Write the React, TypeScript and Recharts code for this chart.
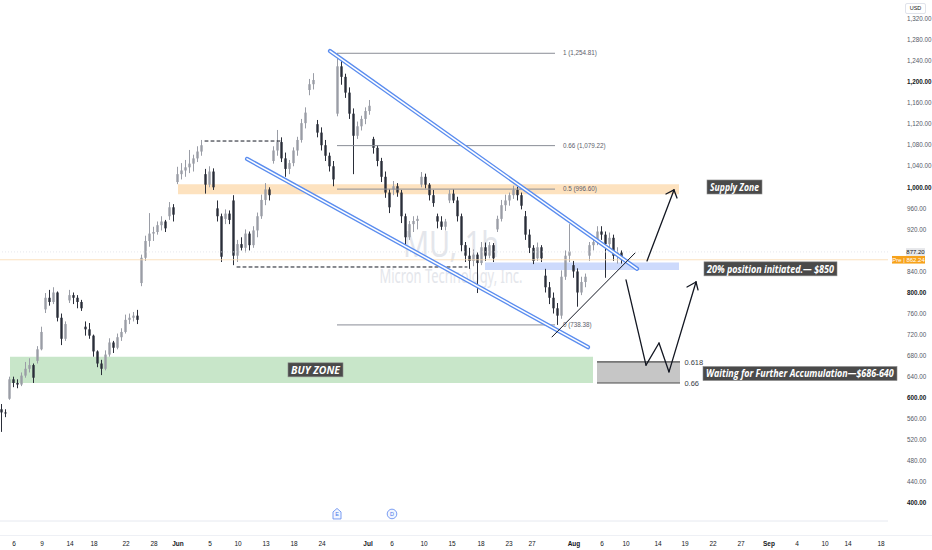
import React, { useLayoutEffect, useRef, useState } from 'react';
import {
  ComposedChart,
  Bar,
  XAxis,
  YAxis,
  ReferenceArea,
  ReferenceLine,
  ReferenceDot,
} from 'recharts';

// ---- candle series: [open, high, low, close], one per bar index ----
const candles: [number, number, number, number][] = [
  [578, 588, 535, 572], [572, 578, 563, 570], [598, 640, 596, 635], [635, 640, 620, 628],
  [628, 635, 618, 625], [625, 648, 622, 642], [642, 668, 638, 655], [655, 675, 648, 662],
  [662, 665, 628, 638], [670, 698, 665, 692], [692, 735, 690, 725], [768, 799, 761, 790],
  [790, 805, 775, 782], [782, 810, 778, 800], [800, 802, 745, 752], [752, 760, 700, 712],
  [712, 745, 708, 740], [785, 805, 780, 795], [795, 800, 778, 790], [790, 795, 770, 782],
  [782, 786, 765, 770], [735, 745, 718, 730], [730, 742, 712, 718], [718, 720, 678, 688],
  [688, 690, 658, 665], [665, 672, 643, 655], [655, 690, 652, 682], [682, 713, 678, 705],
  [705, 708, 685, 695], [695, 722, 692, 715], [715, 732, 708, 725], [725, 758, 722, 748],
  [748, 760, 740, 752], [752, 763, 745, 756], [756, 767, 740, 748], [818, 872, 812, 866],
  [866, 908, 860, 898], [898, 951, 887, 912], [912, 925, 898, 915], [915, 935, 910, 928],
  [928, 945, 918, 935], [935, 938, 915, 922], [945, 972, 938, 962], [962, 968, 935, 948],
  [1010, 1039, 1006, 1025], [1025, 1046, 1015, 1032], [1032, 1052, 1020, 1038], [1038, 1071, 1027, 1045],
  [1045, 1062, 1030, 1055], [1055, 1078, 1048, 1068], [1068, 1090, 1060, 1080], [1025, 1035, 988, 1005],
  [1005, 1040, 1000, 1030], [1030, 1036, 995, 1000], [960, 975, 935, 945], [945, 950, 858, 868],
  [940, 958, 930, 950], [950, 956, 930, 938], [975, 985, 852, 870], [870, 900, 858, 892],
  [892, 905, 880, 885], [885, 920, 876, 912], [912, 916, 880, 890], [890, 926, 885, 918],
  [918, 952, 905, 945], [945, 986, 940, 976], [976, 1008, 966, 996], [996, 1000, 975, 985],
  [1050, 1078, 1045, 1070], [1070, 1109, 1060, 1086], [1086, 1095, 1048, 1055], [1055, 1066, 1020, 1035],
  [1035, 1052, 1025, 1046], [1046, 1076, 1040, 1070], [1070, 1096, 1060, 1090], [1090, 1130, 1085, 1122],
  [1122, 1152, 1112, 1142], [1185, 1206, 1175, 1196], [1196, 1217, 1186, 1204], [1120, 1128, 1095, 1104],
  [1104, 1114, 1070, 1080], [1080, 1090, 1050, 1060], [1060, 1066, 1030, 1040], [1040, 1050, 1002, 1015],
  [1140, 1254.81, 1135, 1230], [1230, 1240, 1195, 1210], [1210, 1216, 1170, 1180], [1180, 1190, 1130, 1140],
  [1140, 1150, 1025, 1098], [1098, 1125, 1092, 1116], [1116, 1136, 1108, 1130], [1130, 1152, 1120, 1145],
  [1145, 1166, 1138, 1155], [1092, 1096, 1064, 1075], [1075, 1080, 1040, 1050], [1050, 1056, 1010, 1020],
  [1020, 1030, 980, 990], [990, 996, 951, 962], [996, 1012, 985, 1002], [1002, 1008, 982, 990],
  [990, 995, 932, 945], [945, 950, 888, 905], [905, 936, 900, 930], [930, 945, 915, 936],
  [936, 946, 920, 940], [1005, 1029, 1000, 1020], [1020, 1026, 998, 1005], [1005, 1008, 975, 985],
  [985, 995, 963, 970], [945, 950, 922, 935], [935, 945, 919, 925], [925, 940, 918, 935],
  [975, 995, 970, 988], [988, 996, 970, 975], [975, 982, 935, 945], [945, 950, 878, 890],
  [890, 896, 858, 870], [870, 885, 845, 860], [860, 882, 850, 872], [872, 876, 799, 856],
  [856, 896, 852, 886], [886, 895, 860, 870], [870, 896, 865, 890], [890, 894, 858, 865],
  [920, 946, 915, 940], [940, 976, 935, 966], [966, 986, 955, 975], [975, 990, 965, 985],
  [985, 1003, 978, 995], [995, 1001, 975, 985], [985, 990, 958, 965], [945, 955, 900, 910],
  [910, 920, 875, 885], [885, 890, 854, 860], [865, 895, 860, 886], [886, 890, 858, 865],
  [832, 845, 800, 810], [810, 820, 778, 790], [790, 800, 760, 770], [770, 780, 738.38, 756],
  [756, 842, 750, 830], [830, 880, 824, 870], [870, 930, 858, 878], [852, 860, 828, 840],
  [840, 846, 773, 800], [800, 830, 795, 820], [820, 836, 810, 830], [870, 896, 860, 890],
  [890, 902, 880, 896], [896, 926, 890, 916], [916, 926, 900, 910], [910, 916, 828, 892],
  [892, 914, 880, 904], [904, 910, 860, 870], [870, 886, 855, 876], [876, 880, 855, 862.24],
];

// ---- axes ----
const priceTicks = [
  400, 440, 480, 520, 560, 600, 640, 680, 720, 760, 800, 840, 920, 960, 1000,
  1040, 1080, 1120, 1160, 1200, 1240, 1280, 1320,
];
const dateTicks = [
  3, 10, 17, 23, 31, 38, 44, 52, 59, 66, 73, 80, 91.5, 97.5, 105.5, 112.5, 119.75,
  126.75, 132.5, 143, 150, 156, 164, 170.75, 177.75, 184.75, 191.75, 198.75, 205.75, 211.5, 219.75,
];
const dateLabels = [
  '6', '9', '14', '18', '22', '28', 'Jun', '5', '10', '13', '18', '24', 'Jul', '6', '10', '15', '18',
  '23', '27', 'Aug', '6', '10', '14', '19', '22', '27', 'Sep', '4', '10', '14', '18',
];

// ---- zones [x1, x2, priceLow, priceHigh] ----
const buyZone = [2, 147.75, 628, 678];
const supplyZone = [44, 169.25, 987, 1006];
const entryZone = [120.75, 169.25, 843, 857];
const accumBox = [148.75, 169.5, 628, 668];

// ---- fib levels ----
const fibLevels = [1254.81, 1079.22, 996.6, 738.38];
const fibLabels = ['1 (1,254.81)', '0.66 (1,079.22)', '0.5 (996.60)', '0 (738.38)'];
const fibRange = [83.75, 138.25];

// ---- drawn lines (polylines of {i: bar index, p: price}) ----
type Pt = { i: number; p: number };
const upperChannel: Pt[] = [{ i: 82, p: 1259 }, { i: 158.75, p: 845 }];
const lowerChannel: Pt[] = [{ i: 61.25, p: 1054 }, { i: 146.5, p: 696 }];
const supportLine: Pt[] = [{ i: 137.5, p: 715.5 }, { i: 158.25, p: 875 }];
const dashedTop: Pt[] = [{ i: 50.75, p: 1088 }, { i: 69.5, p: 1088 }];
const dashedBottom: Pt[] = [{ i: 58.75, p: 848.5 }, { i: 116.25, p: 848.5 }];
const bullPath: Pt[] = [{ i: 161.25, p: 860 }, { i: 168, p: 995 }];
const bullHead: Pt[] = [{ i: 166, p: 987.3 }, { i: 168, p: 995 }, { i: 168.75, p: 979.7 }];
const dipPath: Pt[] = [
  { i: 156, p: 824 }, { i: 161, p: 662 }, { i: 164.25, p: 704 }, { i: 166.75, p: 649 }, { i: 173.5, p: 820 },
];
const dipHead: Pt[] = [{ i: 171.25, p: 810.5 }, { i: 173.5, p: 820 }, { i: 174, p: 805 }];

// ---- text notes [x, price, width, text] ----
const notes: [number, number, number, string][] = [
  [176.25, 1000.6, 55, 'Supply Zone'],
  [175.5, 845, 133, '20% position initiated.\u2014 $850'],
  [175.25, 646, 194, 'Waiting for Further Accumulation\u2014$686-640'],
  [71.5, 653, 55, 'BUY ZONE'],
];

const lastClose = 862.24;
const prevClose = 877.2;
const events = [
  { i: 83.75, kind: 'E' },
  { i: 97.5, kind: 'D' },
];

const data = candles.map(([o, h, l, c], i) => ({ i, o, h, l, c, range: [l, h] }));

const FONT = '"Liberation Sans", Arial, sans-serif';

const segmentsOf = (pts: Pt[]) =>
  pts.slice(1).map((pt, k) => [
    { x: pts[k].i, y: pts[k].p },
    { x: pt.i, y: pt.p },
  ]);

const CandleShape = (props: any) => {
  const { x, y, width, height, payload } = props;
  if (x == null || y == null || !payload) return null;
  const { o, h, l, c } = payload;
  const cx = x + width / 2;
  const k = height / (h - l || 1);
  const yO = y + (h - o) * k;
  const yC = y + (h - c) * k;
  const up = c >= o;
  const color = up ? '#9a9da6' : '#2a2e39';
  const top = Math.min(yO, yC);
  const bh = Math.max(Math.abs(yC - yO), 1);
  return (
    <g>
      <line x1={cx} x2={cx} y1={y} y2={y + height} stroke={color} strokeWidth={1} />
      <rect x={cx - 1.2} y={top} width={2.4} height={bh} fill={color} />
    </g>
  );
};

const PriceTick = (props: any) => {
  const { x, y, payload } = props;
  const v = payload.value as number;
  const strong = v % 200 === 0;
  return (
    <text
      x={x + 19}
      y={y}
      dy="0.35em"
      fontSize={6.3}
      fontFamily={FONT}
      fill={strong ? '#131722' : '#555a66'}
      fontWeight={strong ? 700 : 400}
      textAnchor="start"
    >
      {v.toLocaleString('en-US', { minimumFractionDigits: 2, maximumFractionDigits: 2 })}
    </text>
  );
};

const DateTick = (props: any) => {
  const { x, y, payload } = props;
  const idx = dateTicks.indexOf(payload.value);
  const label = idx >= 0 ? dateLabels[idx] : '';
  const month = /[A-Za-z]/.test(label);
  return (
    <text
      x={x}
      y={y + 24.5}
      textAnchor="middle"
      fontSize={6.5}
      fontFamily={FONT}
      fontWeight={month ? 700 : 400}
      fill="#131722"
    >
      {label}
    </text>
  );
};

// text squeezed horizontally to a target width (measured after layout)
const FitText = ({ x, y, width, text }: { x: number; y: number; width: number; text: string }) => {
  const ref = useRef<SVGTextElement>(null);
  const [s, setS] = useState(0.72);
  useLayoutEffect(() => {
    if (ref.current) {
      const w = ref.current.getComputedTextLength();
      if (w > 0) setS(width / w);
    }
  }, [width, text]);
  return (
    <g transform={`translate(${x},${y}) scale(${s},1)`}>
      <text
        ref={ref}
        x={0}
        y={0}
        dy="0.36em"
        fill="#ffffff"
        fontSize={11}
        fontWeight={700}
        fontStyle="italic"
        fontFamily='"Open Sans", "Noto Sans", sans-serif'
      >
        {text}
      </text>
    </g>
  );
};

const noteShape = (w: number, text: string) => (p: any) => {
  const { cx, cy } = p;
  if (cx == null || cy == null) return null;
  return (
    <g>
      <rect x={cx} y={cy - 7} width={w} height={14} fill="#4a4a4a" stroke="#8a8a8a" strokeWidth={0.6} />
      <FitText x={cx + 3} y={cy} width={w - 6} text={text} />
    </g>
  );
};

const smallText = (text: string, size: number, color: string) => (p: any) => {
  const { cx, cy } = p;
  if (cx == null || cy == null) return null;
  return (
    <text x={cx} y={cy} dy="0.35em" fontSize={size} fill={color} fontFamily={FONT}>
      {text}
    </text>
  );
};

const tagShape = (text: string, bg: string, fg: string, w: number, dx: number) => (p: any) => {
  const { cx, cy } = p;
  if (cx == null || cy == null) return null;
  return (
    <g>
      <rect x={cx + dx} y={cy - 3.8} width={w} height={7.6} fill={bg} />
      <text x={cx + dx + w / 2} y={cy} dy="0.35em" fontSize={6} fill={fg} textAnchor="middle" fontFamily={FONT}>
        {text}
      </text>
    </g>
  );
};

const eventShape = (kind: string) => (p: any) => {
  const { cx, cy } = p;
  if (cx == null || cy == null) return null;
  return (
    <g>
      {kind === 'E' ? (
        <path
          d={`M${cx - 4} ${cy + 5} L${cx - 4} ${cy - 2} L${cx} ${cy - 5.5} L${cx + 4} ${cy - 2} L${cx + 4} ${cy + 5} Z`}
          fill="#f2f6ff"
          stroke="#6b92f0"
          strokeWidth={0.9}
        />
      ) : (
        <circle cx={cx} cy={cy} r={4.8} fill="#f2f6ff" stroke="#6b92f0" strokeWidth={0.9} />
      )}
      <text x={cx} y={cy + 0.5} dy="0.35em" fontSize={5.5} fill="#4a78e8" textAnchor="middle" fontFamily={FONT}>
        {kind}
      </text>
    </g>
  );
};

const renderPolyline = (pts: Pt[], key: string, stroke: string, width: number, dash?: string) =>
  segmentsOf(pts).map((seg, k) => (
    <ReferenceLine
      key={`${key}-${k}`}
      segment={seg}
      stroke={stroke}
      strokeWidth={width}
      strokeDasharray={dash}
      strokeLinecap="round"
    />
  ));

export default function App() {
  return (
    <div style={{ position: 'absolute', left: 0, top: 0, width: 932, height: 550, background: '#ffffff', overflow: 'hidden' }}>
      {/* symbol watermark */}
      <div
        style={{
          position: 'absolute',
          left: 251,
          width: 400,
          top: 226,
          textAlign: 'center',
          fontFamily: '"Noto Sans", sans-serif',
          color: '#e4e6eb',
          lineHeight: 1,
        }}
      >
        <div style={{ fontSize: 36, transform: 'scaleX(0.8)' }}>MU, 1h</div>
        <div style={{ fontSize: 19, marginTop: 5, transform: 'scaleX(0.68)' }}>Micron Technology, Inc.</div>
      </div>
      <div style={{ position: 'absolute', left: 0, top: 535, width: 932, height: 1, background: '#eef0f5' }} />
      <div style={{ position: 'absolute', left: 0, top: 0 }}>
        <ComposedChart width={932} height={550} data={data} margin={{ top: 0, right: 0, bottom: 0, left: 0 }}>
          <XAxis
            dataKey="i"
            type="number"
            domain={[-0.5, 221.5]}
            allowDataOverflow
            ticks={dateTicks}
            interval={0}
            tick={<DateTick />}
            tickLine={false}
            tickSize={0}
            tickMargin={0}
            axisLine={{ stroke: '#e6e9f0' }}
            height={29}
          />
          <YAxis
            orientation="right"
            type="number"
            domain={[365.6, 1356.1]}
            allowDataOverflow
            ticks={priceTicks}
            interval={0}
            tick={<PriceTick />}
            tickLine={false}
            tickSize={0}
            tickMargin={0}
            axisLine={false}
            width={44}
          />

          <ReferenceArea x1={buyZone[0]} x2={buyZone[1]} y1={buyZone[2]} y2={buyZone[3]} fill="#c8e6c9" fillOpacity={1} stroke="none" />
          <ReferenceArea x1={supplyZone[0]} x2={supplyZone[1]} y1={supplyZone[2]} y2={supplyZone[3]} fill="#fde2bf" fillOpacity={1} stroke="none" />
          <ReferenceArea x1={entryZone[0]} x2={entryZone[1]} y1={entryZone[2]} y2={entryZone[3]} fill="#cddafc" fillOpacity={1} stroke="none" />
          <ReferenceArea x1={accumBox[0]} x2={accumBox[1]} y1={accumBox[2]} y2={accumBox[3]} fill="#c6c6c6" fillOpacity={1} stroke="none" />

          <ReferenceLine y={prevClose} stroke="#dfe1e8" strokeWidth={0.8} strokeDasharray="1 2" />
          <ReferenceLine y={lastClose} stroke="#fbd9b0" strokeWidth={0.8} />

          {fibLevels.map((lv) => (
            <ReferenceLine
              key={`fib-${lv}`}
              segment={[{ x: fibRange[0], y: lv }, { x: fibRange[1], y: lv }]}
              stroke="#8a8d96"
              strokeWidth={1}
            />
          ))}
          <ReferenceLine
            segment={[{ x: accumBox[0], y: accumBox[3] }, { x: accumBox[1], y: accumBox[3] }]}
            stroke="#4a4a4a"
            strokeWidth={1.2}
          />
          <ReferenceLine
            segment={[{ x: accumBox[0], y: accumBox[2] }, { x: accumBox[1], y: accumBox[2] }]}
            stroke="#4a4a4a"
            strokeWidth={1.2}
          />

          <Bar dataKey="range" shape={CandleShape} barSize={3} isAnimationActive={false} />

          {renderPolyline(dashedTop, 'dt', '#131722', 1, '3 3')}
          {renderPolyline(dashedBottom, 'db', '#131722', 1, '3 3')}
          {renderPolyline(upperChannel, 'uc', '#5b8def', 4.2)}
          {renderPolyline(upperChannel, 'ucw', '#ffffff', 1.5)}
          {renderPolyline(lowerChannel, 'lc', '#5b8def', 4.2)}
          {renderPolyline(lowerChannel, 'lcw', '#ffffff', 1.5)}
          {renderPolyline(supportLine, 'sl', '#131722', 1)}
          {renderPolyline(bullPath, 'bp', '#131722', 1.3)}
          {renderPolyline(bullHead, 'bh', '#131722', 1.3)}
          {renderPolyline(dipPath, 'dp', '#131722', 1.3)}
          {renderPolyline(dipHead, 'dh', '#131722', 1.3)}

          {fibLevels.map((lv, k) => (
            <ReferenceDot
              key={`fibl-${lv}`}
              x={fibRange[1] + 2}
              y={lv}
              r={0}
              shape={smallText(fibLabels[k], 6.3, '#5d606b')}
            />
          ))}
          <ReferenceDot x={accumBox[1] + 1.1} y={accumBox[3]} r={0} shape={smallText('0.618', 7.5, '#3a3d45')} />
          <ReferenceDot x={accumBox[1] + 1.1} y={accumBox[2]} r={0} shape={smallText('0.66', 7.5, '#3a3d45')} />

          {notes.map(([x, y, w, t]) => (
            <ReferenceDot key={t} x={x} y={y} r={0} shape={noteShape(w, t)} />
          ))}

          {events.map((e) => (
            <ReferenceDot key={e.kind} x={e.i} y={379} r={0} shape={eventShape(e.kind)} />
          ))}

          <ReferenceDot
            x={221.5}
            y={prevClose}
            r={0}
            ifOverflow="visible"
            shape={tagShape('877.20', '#e6e7ea', '#131722', 19, 18)}
          />
          <ReferenceDot
            x={221.5}
            y={lastClose}
            r={0}
            ifOverflow="visible"
            shape={tagShape('Pre | 862.24', '#f7a21b', '#ffffff', 33, 4)}
          />
        </ComposedChart>
      </div>
      <div
        style={{
          position: 'absolute',
          left: 905,
          top: 3,
          width: 19,
          height: 9,
          border: '1px solid #e0e3eb',
          borderRadius: 2,
          fontSize: 5.5,
          lineHeight: '9px',
          textAlign: 'center',
          color: '#131722',
          fontFamily: FONT,
          background: '#fff',
        }}
      >
        USD
      </div>
    </div>
  );
}
